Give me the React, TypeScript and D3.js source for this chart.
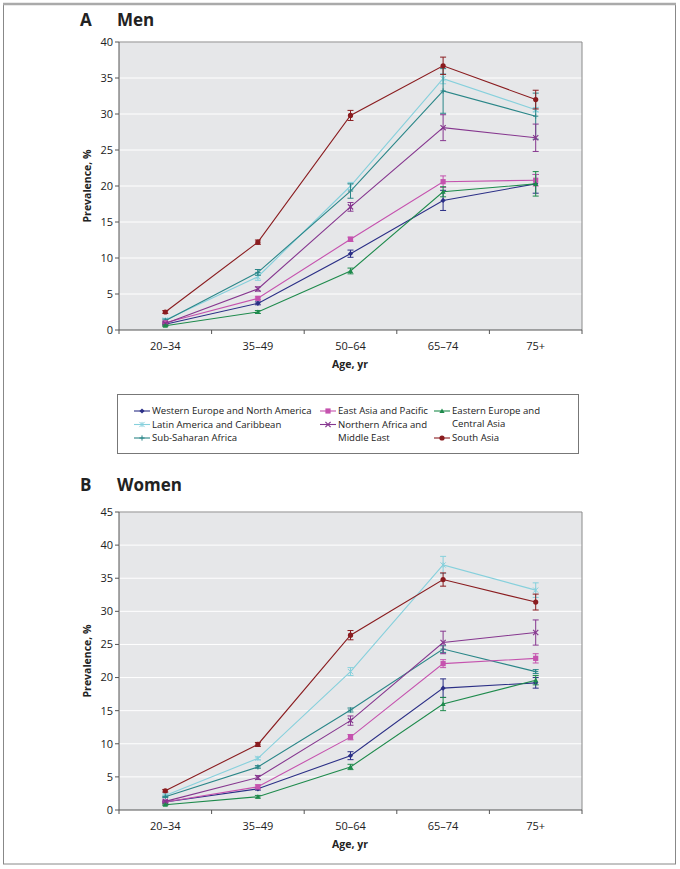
import React from "react";
import * as d3 from "d3";

const ageGroups = ["20–34", "35–49", "50–64", "65–74", "75+"];

const seriesNames = [
  "Western Europe and North America",
  "Latin America and Caribbean",
  "Sub-Saharan Africa",
  "East Asia and Pacific",
  "Northern Africa and Middle East",
  "Eastern Europe and Central Asia",
  "South Asia",
];
const seriesColors = ["#2b2f86", "#86d0dc", "#2a8688", "#c552ae", "#86378f", "#1e8a4c", "#8a1c1f"];
const seriesMarkers = ["diamond", "star", "plus", "square", "cross", "triangle", "circle"];

// Men
const menWE = [0.8, 3.7, 10.6, 18.0, 20.3];
const menLA = [1.4, 7.4, 20.0, 34.9, 30.6];
const menSSA = [1.3, 8.0, 19.3, 33.2, 29.7];
const menEA = [1.0, 4.4, 12.6, 20.6, 20.8];
const menNA = [0.9, 5.7, 17.1, 28.1, 26.7];
const menEE = [0.6, 2.5, 8.2, 19.2, 20.3];
const menSA = [2.5, 12.2, 29.8, 36.7, 32.0];

const menWEErr = [0.1, 0.2, 0.5, 1.4, 1.3];
const menLAErr = [0.2, 0.5, 0.5, 0.7, 0.3];
const menSSAErr = [0.2, 0.4, 1.0, 3.1, 3.2];
const menEAErr = [0.1, 0.2, 0.3, 0.8, 0.8];
const menNAErr = [0.1, 0.3, 0.6, 1.8, 1.9];
const menEEErr = [0.1, 0.2, 0.4, 0.7, 1.7];
const menSAErr = [0.2, 0.3, 0.7, 1.2, 1.3];

// Women
const womenWE = [1.2, 3.2, 8.2, 18.4, 19.2];
const womenLA = [2.2, 7.8, 20.9, 37.0, 33.2];
const womenSSA = [2.0, 6.5, 15.1, 24.3, 20.9];
const womenEA = [1.2, 3.5, 11.0, 22.1, 22.9];
const womenNA = [1.3, 4.9, 13.5, 25.3, 26.8];
const womenEE = [0.8, 2.0, 6.5, 16.0, 19.6];
const womenSA = [2.9, 9.9, 26.4, 34.8, 31.4];

const womenWEErr = [0.1, 0.2, 0.6, 1.4, 0.8];
const womenLAErr = [0.2, 0.2, 0.6, 1.3, 1.1];
const womenSSAErr = [0.1, 0.2, 0.3, 0.5, 0.3];
const womenEAErr = [0.1, 0.3, 0.4, 0.6, 0.7];
const womenNAErr = [0.1, 0.3, 0.7, 1.7, 1.9];
const womenEEErr = [0.1, 0.2, 0.4, 1.0, 0.7];
const womenSAErr = [0.2, 0.3, 0.7, 1.0, 1.2];

const menTicks = [0, 5, 10, 15, 20, 25, 30, 35, 40];
const womenTicks = [0, 5, 10, 15, 20, 25, 30, 35, 40, 45];

const menValues = [menWE, menLA, menSSA, menEA, menNA, menEE, menSA];
const menErrors = [menWEErr, menLAErr, menSSAErr, menEAErr, menNAErr, menEEErr, menSAErr];
const womenValues = [womenWE, womenLA, womenSSA, womenEA, womenNA, womenEE, womenSA];
const womenErrors = [womenWEErr, womenLAErr, womenSSAErr, womenEAErr, womenNAErr, womenEEErr, womenSAErr];

const FONT = "'Open Sans', 'DejaVu Sans', sans-serif";

function Marker({ type, x, y, color }: { type: string; x: number; y: number; color: string }) {
  const s = 2.6;
  switch (type) {
    case "diamond":
      return <path d={`M${x},${y - s}L${x + s},${y}L${x},${y + s}L${x - s},${y}Z`} fill={color} />;
    case "square":
      return <rect x={x - s} y={y - s} width={2 * s} height={2 * s} fill={color} />;
    case "triangle":
      return <path d={`M${x},${y - s}L${x + s},${y + s * 0.8}L${x - s},${y + s * 0.8}Z`} fill={color} />;
    case "circle":
      return <circle cx={x} cy={y} r={s} fill={color} />;
    case "plus":
      return <path d={`M${x - s},${y}H${x + s}M${x},${y - s}V${y + s}`} stroke={color} strokeWidth={1} />;
    case "cross":
      return (
        <path
          d={`M${x - s},${y - s}L${x + s},${y + s}M${x - s},${y + s}L${x + s},${y - s}`}
          stroke={color}
          strokeWidth={1.2}
        />
      );
    case "star":
      return (
        <path
          d={`M${x - s},${y - s}L${x + s},${y + s}M${x - s},${y + s}L${x + s},${y - s}M${x},${y - s}V${y + s}`}
          stroke={color}
          strokeWidth={1}
        />
      );
    default:
      return null;
  }
}

function Panel({
  top,
  bottom,
  maxY,
  ticks,
  values,
  errors,
  letter,
  title,
  titleY,
}: {
  top: number;
  bottom: number;
  maxY: number;
  ticks: number[];
  values: number[][];
  errors: number[][];
  letter: string;
  title: string;
  titleY: number;
}) {
  const left = 119;
  const right = 582;
  const x = d3.scaleBand<string>().domain(ageGroups).range([left, right]);
  const y = d3.scaleLinear().domain([0, maxY]).range([bottom, top]);
  const cx = (g: string) => (x(g) as number) + x.bandwidth() / 2;
  const line = d3
    .line<number>()
    .x((_, i) => cx(ageGroups[i]))
    .y((d) => y(d));
  const boundaries = d3.range(ageGroups.length + 1).map((i) => left + i * x.bandwidth());

  return (
    <g>
      <text x={80} y={titleY} fontFamily={FONT} fontWeight="bold" fontSize={17} fill="#222">
        {letter}
      </text>
      <text x={117} y={titleY} fontFamily={FONT} fontWeight="bold" fontSize={17} fill="#222">
        {title}
      </text>
      <rect x={left} y={top} width={right - left} height={bottom - top} fill="#e6e7e9" />
      {ticks.slice(1).map((t) => (
        <line key={t} x1={left} x2={right} y1={y(t)} y2={y(t)} stroke="#ffffff" strokeWidth={1} />
      ))}
      <path d={`M${left},${top}H${right}V${bottom}`} fill="none" stroke="#8a8a8a" strokeWidth={1} />
      <line x1={left} x2={left} y1={top} y2={bottom} stroke="#555" strokeWidth={1} />
      <line x1={left} x2={right} y1={bottom} y2={bottom} stroke="#555" strokeWidth={1} />
      {ticks.map((t) => (
        <g key={t}>
          <line x1={left - 4} x2={left} y1={y(t)} y2={y(t)} stroke="#555" />
          <text
            x={left - 6}
            y={y(t)}
            dy="0.35em"
            textAnchor="end"
            fontFamily={FONT}
            fontSize={11}
            fill="#222"
          >
            {t}
          </text>
        </g>
      ))}
      {boundaries.map((b, i) => (
        <line key={i} x1={b} x2={b} y1={bottom} y2={bottom + 4} stroke="#555" />
      ))}
      {ageGroups.map((g) => (
        <text
          key={g}
          x={cx(g)}
          y={bottom + 20}
          textAnchor="middle"
          fontFamily={FONT}
          fontSize={11}
          fill="#222"
        >
          {g}
        </text>
      ))}
      <text
        x={350}
        y={bottom + 38}
        textAnchor="middle"
        fontFamily={FONT}
        fontWeight="bold"
        fontSize={10.5}
        fill="#222"
      >
        Age, yr
      </text>
      <text
        transform={`translate(91,${(top + bottom) / 2}) rotate(-90)`}
        textAnchor="middle"
        fontFamily={FONT}
        fontWeight="bold"
        fontSize={10.5}
        fill="#222"
      >
        Prevalence, %
      </text>
      {values.map((vals, si) => (
        <g key={si}>
          <path d={line(vals) || ""} fill="none" stroke={seriesColors[si]} strokeWidth={1.1} />
          {vals.map((v, i) => {
            const e = errors[si][i];
            const px = cx(ageGroups[i]);
            return (
              <g key={i}>
                <path
                  d={`M${px},${y(v + e)}V${y(v - e)}M${px - 3},${y(v + e)}H${px + 3}M${px - 3},${y(v - e)}H${px + 3}`}
                  stroke={seriesColors[si]}
                  strokeWidth={1}
                  fill="none"
                />
                <Marker type={seriesMarkers[si]} x={px} y={y(v)} color={seriesColors[si]} />
              </g>
            );
          })}
        </g>
      ))}
    </g>
  );
}

const legendLayout = [
  { col: 0, row: 0 },
  { col: 0, row: 1 },
  { col: 0, row: 2 },
  { col: 1, row: 0 },
  { col: 1, row: 1 },
  { col: 2, row: 0 },
  { col: 2, row: 2 },
];
const legendLines: string[][] = [
  ["Western Europe and North America"],
  ["Latin America and Caribbean"],
  ["Sub-Saharan Africa"],
  ["East Asia and Pacific"],
  ["Northern Africa and", "Middle East"],
  ["Eastern Europe and", "Central Asia"],
  ["South Asia"],
];

function Legend() {
  const colX = [134, 320, 434];
  const rowY = [411, 424.5, 438];
  return (
    <g>
      <rect x={117.5} y={394.5} width={461} height={59} fill="#fff" stroke="#777" strokeWidth={1} />
      {seriesNames.map((name, i) => {
        const { col, row } = legendLayout[i];
        const lx = colX[col];
        const ly = rowY[row];
        return (
          <g key={name}>
            <line x1={lx} x2={lx + 16} y1={ly} y2={ly} stroke={seriesColors[i]} strokeWidth={1.1} />
            <Marker type={seriesMarkers[i]} x={lx + 8} y={ly} color={seriesColors[i]} />
            {legendLines[i].map((t, k) => (
              <text
                key={k}
                x={lx + 18}
                y={ly + k * 13}
                dy="0.35em"
                fontFamily={FONT}
                fontSize={9.6}
                fill="#222"
              >
                {t}
              </text>
            ))}
          </g>
        );
      })}
    </g>
  );
}

export default function App() {
  return (
    <svg
      width={680}
      height={869}
      style={{ position: "absolute", left: 0, top: 0, background: "#fff" }}
    >
      <rect x={3.5} y={4} width={672} height={860} fill="#fff" stroke="#888" strokeWidth={1} />
      <line x1={3} x2={676} y1={4} y2={4} stroke="#aaa" strokeWidth={2.5} />
      <Panel
        top={42}
        bottom={330}
        maxY={40}
        ticks={menTicks}
        values={menValues}
        errors={menErrors}
        letter="A"
        title="Men"
        titleY={26}
      />
      <Legend />
      <Panel
        top={512}
        bottom={810}
        maxY={45}
        ticks={womenTicks}
        values={womenValues}
        errors={womenErrors}
        letter="B"
        title="Women"
        titleY={491}
      />
    </svg>
  );
}
